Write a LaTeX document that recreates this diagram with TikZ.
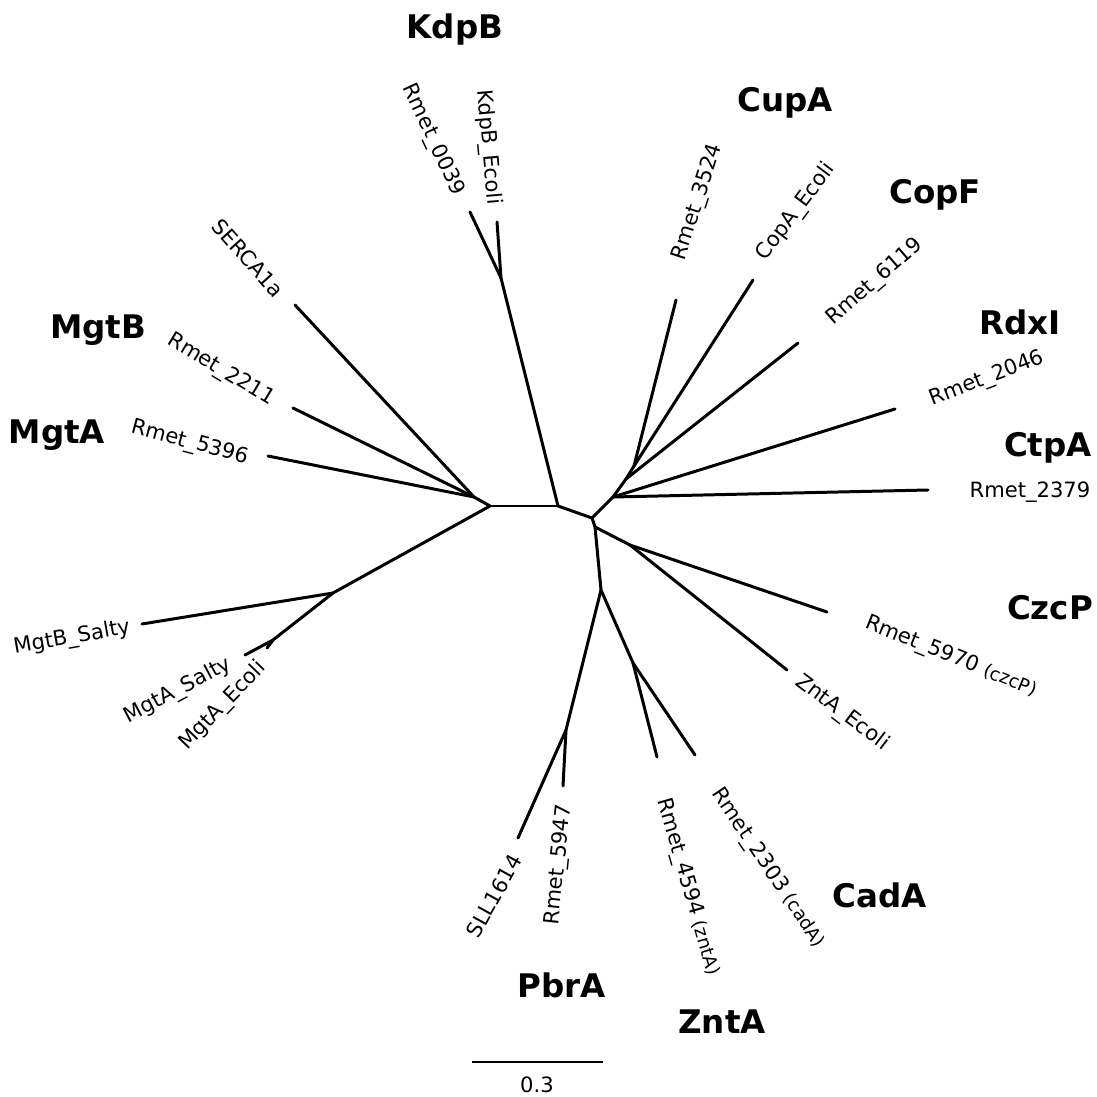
\documentclass[tikz,border=0pt]{standalone}
\usepackage{fontspec}
\setmainfont{DejaVu Sans}
\newcommand{\gname}[1]{{\fontsize{10.5}{12}\selectfont #1}}
\begin{document}
\begin{tikzpicture}[x=0.02cm,y=-0.02cm,
  branch/.style={line width=1.7pt, line cap=round, line join=round},
  leaf/.style={font=\fontsize{12}{14}\selectfont, inner sep=0pt},
  grp/.style={font=\fontsize{18.5}{22}\selectfont\bfseries, inner sep=0pt}]
\useasboundingbox (0,0) rectangle (1097,1097);
% internal nodes
\coordinate (L) at (490,506);
\coordinate (C1) at (558,506);
\coordinate (K) at (501,278);
\coordinate (C2) at (592,518);
\coordinate (C3) at (613,497);
\coordinate (C5) at (626,479);
\coordinate (C4) at (634,466);
\coordinate (D0) at (595,527);
\coordinate (E) at (630,545);
\coordinate (D1) at (601,590);
\coordinate (P) at (566,730);
\coordinate (Z) at (633,663);
\coordinate (M) at (474,497);
\coordinate (G) at (333,593);
\coordinate (H) at (273,640);
% leaves
\coordinate (r0039) at (470,212);
\coordinate (kdpE) at (497,222);
\coordinate (r3524) at (676,300);
\coordinate (copE) at (753,280);
\coordinate (r6119) at (798,343);
\coordinate (r2046) at (895,409);
\coordinate (r2379) at (928,490);
\coordinate (r5970) at (827,612);
\coordinate (zntE) at (787,670);
\coordinate (sll) at (518,838);
\coordinate (r5947) at (563,786);
\coordinate (r4594) at (657,757);
\coordinate (r2303) at (695,755);
\coordinate (r5396) at (268,456);
\coordinate (r2211) at (293,408);
\coordinate (serca) at (295,305);
\coordinate (mgtBS) at (142,624);
\coordinate (mgtAS) at (245,655);
\coordinate (mgtAE) at (267,648);
% branches
\draw[branch] (L) -- (C1);
\draw[branch] (C1) -- (K);
\draw[branch] (K) -- (r0039);
\draw[branch] (K) -- (kdpE);
\draw[branch] (C1) -- (C2);
\draw[branch] (C2) -- (C3);
\draw[branch] (C3) -- (r2379);
\draw[branch] (C3) -- (r2046);
\draw[branch] (C3) -- (C5);
\draw[branch] (C5) -- (r6119);
\draw[branch] (C5) -- (C4);
\draw[branch] (C4) -- (r3524);
\draw[branch] (C4) -- (copE);
\draw[branch] (C2) -- (D0);
\draw[branch] (D0) -- (E);
\draw[branch] (E) -- (r5970);
\draw[branch] (E) -- (zntE);
\draw[branch] (D0) -- (D1);
\draw[branch] (D1) -- (P);
\draw[branch] (P) -- (sll);
\draw[branch] (P) -- (r5947);
\draw[branch] (D1) -- (Z);
\draw[branch] (Z) -- (r4594);
\draw[branch] (Z) -- (r2303);
\draw[branch] (L) -- (M);
\draw[branch] (M) -- (r5396);
\draw[branch] (M) -- (r2211);
\draw[branch] (M) -- (serca);
\draw[branch] (L) -- (G);
\draw[branch] (G) -- (mgtBS);
\draw[branch] (G) -- (H);
\draw[branch] (H) -- (mgtAS);
\draw[branch] (H) -- (mgtAE);
% leaf labels
\node[leaf, rotate=-65] (t0039) at (433,140) {Rmet\_0039};
\node[leaf, rotate=-85] (tkdpE) at (488,147) {KdpB\_Ecoli};
\node[leaf, rotate=72] (t3524) at (698,202) {Rmet\_3524};
\node[leaf, rotate=53] (tcopE) at (796,212) {CopA\_Ecoli};
\node[leaf, rotate=41] (t6119) at (875,282) {Rmet\_6119};
\node[leaf, rotate=21] (t2046) at (987,379) {Rmet\_2046};
\node[leaf] (t2379) at (1030,492) {Rmet\_2379};
\node[leaf, rotate=-22] (t5970) at (951,657) {Rmet\_5970 \gname{(czcP)}};
\node[leaf, rotate=-37] (tzntE) at (842,713) {ZntA\_Ecoli};
\node[leaf, rotate=-56] (t2303) at (768,868) {Rmet\_2303 \gname{(cadA)}};
\node[leaf, rotate=-74] (t4594) at (688,887) {Rmet\_4594 \gname{(zntA)}};
\node[leaf, rotate=61] (tsll) at (494,896) {SLL1614};
\node[leaf, rotate=84] (t5947) at (559,865) {Rmet\_5947};
\node[leaf, rotate=-48] (tserca) at (248,258) {SERCA1a};
\node[leaf, rotate=-31] (t2211) at (221,370) {Rmet\_2211};
\node[leaf, rotate=-15] (t5396) at (190,443) {Rmet\_5396};
\node[leaf, rotate=10] (tmgtBS) at (72,638) {MgtB\_Salty};
\node[leaf, rotate=28] (tmgtAS) at (178,691) {MgtA\_Salty};
\node[leaf, rotate=46] (tmgtAE) at (223,706) {MgtA\_Ecoli};
% group labels
\node[grp] (gKdpB) at (455,30) {KdpB};
\node[grp] (gCupA) at (785,103) {CupA};
\node[grp] (gCopF) at (935,195) {CopF};
\node[grp] (gRdxI) at (1020,322) {RdxI};
\node[grp] (gCtpA) at (1048,448) {CtpA};
\node[grp] (gCzcP) at (1050,608) {CzcP};
\node[grp] (gCadA) at (880,895) {CadA};
\node[grp] (gZntA) at (722,1022) {ZntA};
\node[grp] (gPbrA) at (562,985) {PbrA};
\node[grp] (gMgtB) at (98,330) {MgtB};
\node[grp] (gMgtA) at (57,435) {MgtA};
% scale bar
\coordinate (sb1) at (472,1062);
\coordinate (sb2) at (603,1062);
\draw[line width=0.8pt] (sb1) -- (sb2);
\node[leaf] (sbl) at (537,1085) {0.3};
\end{tikzpicture}
\end{document}
